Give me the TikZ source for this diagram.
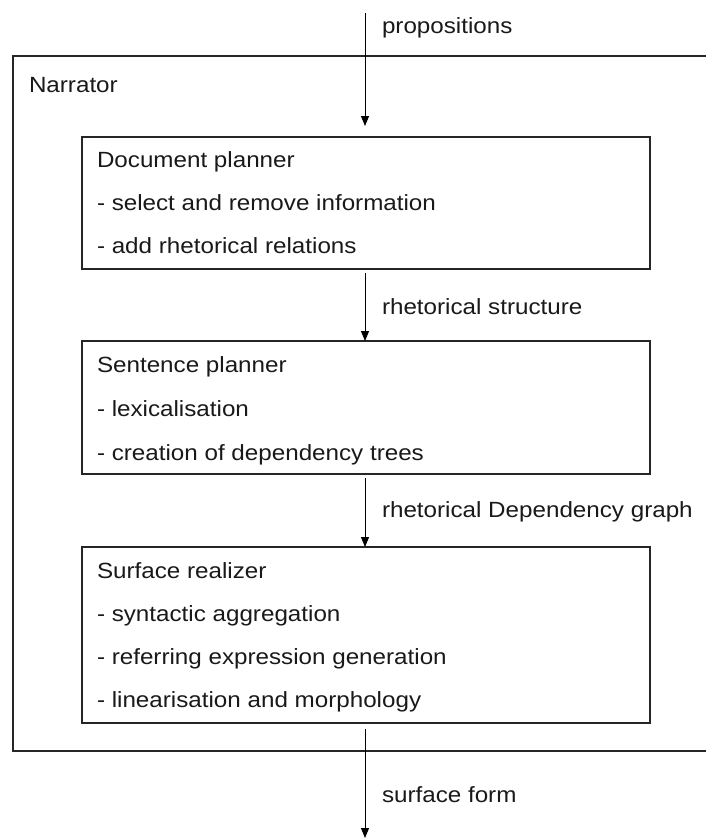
\documentclass[tikz,border=0pt]{standalone}
\usepackage{fontspec}
\setmainfont[FakeStretch=1.1]{Liberation Sans}
\usetikzlibrary{arrows.meta}
\begin{document}
\begin{tikzpicture}[x=1pt,y=-1pt,
  every node/.style={inner sep=0pt,outer sep=0pt,font=\fontsize{22}{26}\selectfont},
  stagebox/.style={draw=black!85,line width=1.4pt,anchor=north west,minimum width=568pt},
  txt/.style={anchor=base west,text=black!90},
  flow/.style={line width=1pt,-{Triangle[width=8pt,length=10pt]}}]
\useasboundingbox (0,0) rectangle (706,839);
\clip (0,0) rectangle (706,839);
% Narrator frame, open to the right
\draw[line width=1.4pt,draw=black!85] (720,56) -- (13,56) -- (13,751) -- (720,751);
\node[txt] (narr) at (29,92) {Narrator};
% stages
\node[stagebox,minimum height=132pt] (doc) at (82,137) {};
\node[txt] (doc1) at (97,167) {Document planner};
\node[txt] (doc2) at (97,210) {- select and remove information};
\node[txt] (doc3) at (97,253) {- add rhetorical relations};
\node[stagebox,minimum height=133pt] (sent) at (82,341) {};
\node[txt] (sent1) at (97,372) {Sentence planner};
\node[txt] (sent2) at (97,416) {- lexicalisation};
\node[txt] (sent3) at (97,460) {- creation of dependency trees};
\node[stagebox,minimum height=176pt] (surf) at (82,547) {};
\node[txt] (surf1) at (97,578) {Surface realizer};
\node[txt] (surf2) at (97,621) {- syntactic aggregation};
\node[txt] (surf3) at (97,664) {- referring expression generation};
\node[txt] (surf4) at (97,707) {- linearisation and morphology};
% flow between stages
\coordinate (in) at (365,13);
\coordinate (out) at (365,838);
\draw[flow,shorten >=11pt] (in) -- (doc.north -| in);
\draw[flow,shorten <=4pt] (doc.south -| in) -- (sent.north -| in);
\draw[flow,shorten <=4pt] (sent.south -| in) -- (surf.north -| in);
\draw[flow,shorten <=6pt] (surf.south -| in) -- (out);
\node[txt] (l1) at (382,33) {propositions};
\node[txt] (l2) at (382,314) {rhetorical structure};
\node[txt] (l3) at (382,517) {rhetorical Dependency graph};
\node[txt] (l4) at (382,802) {surface form};
\end{tikzpicture}
\end{document}
